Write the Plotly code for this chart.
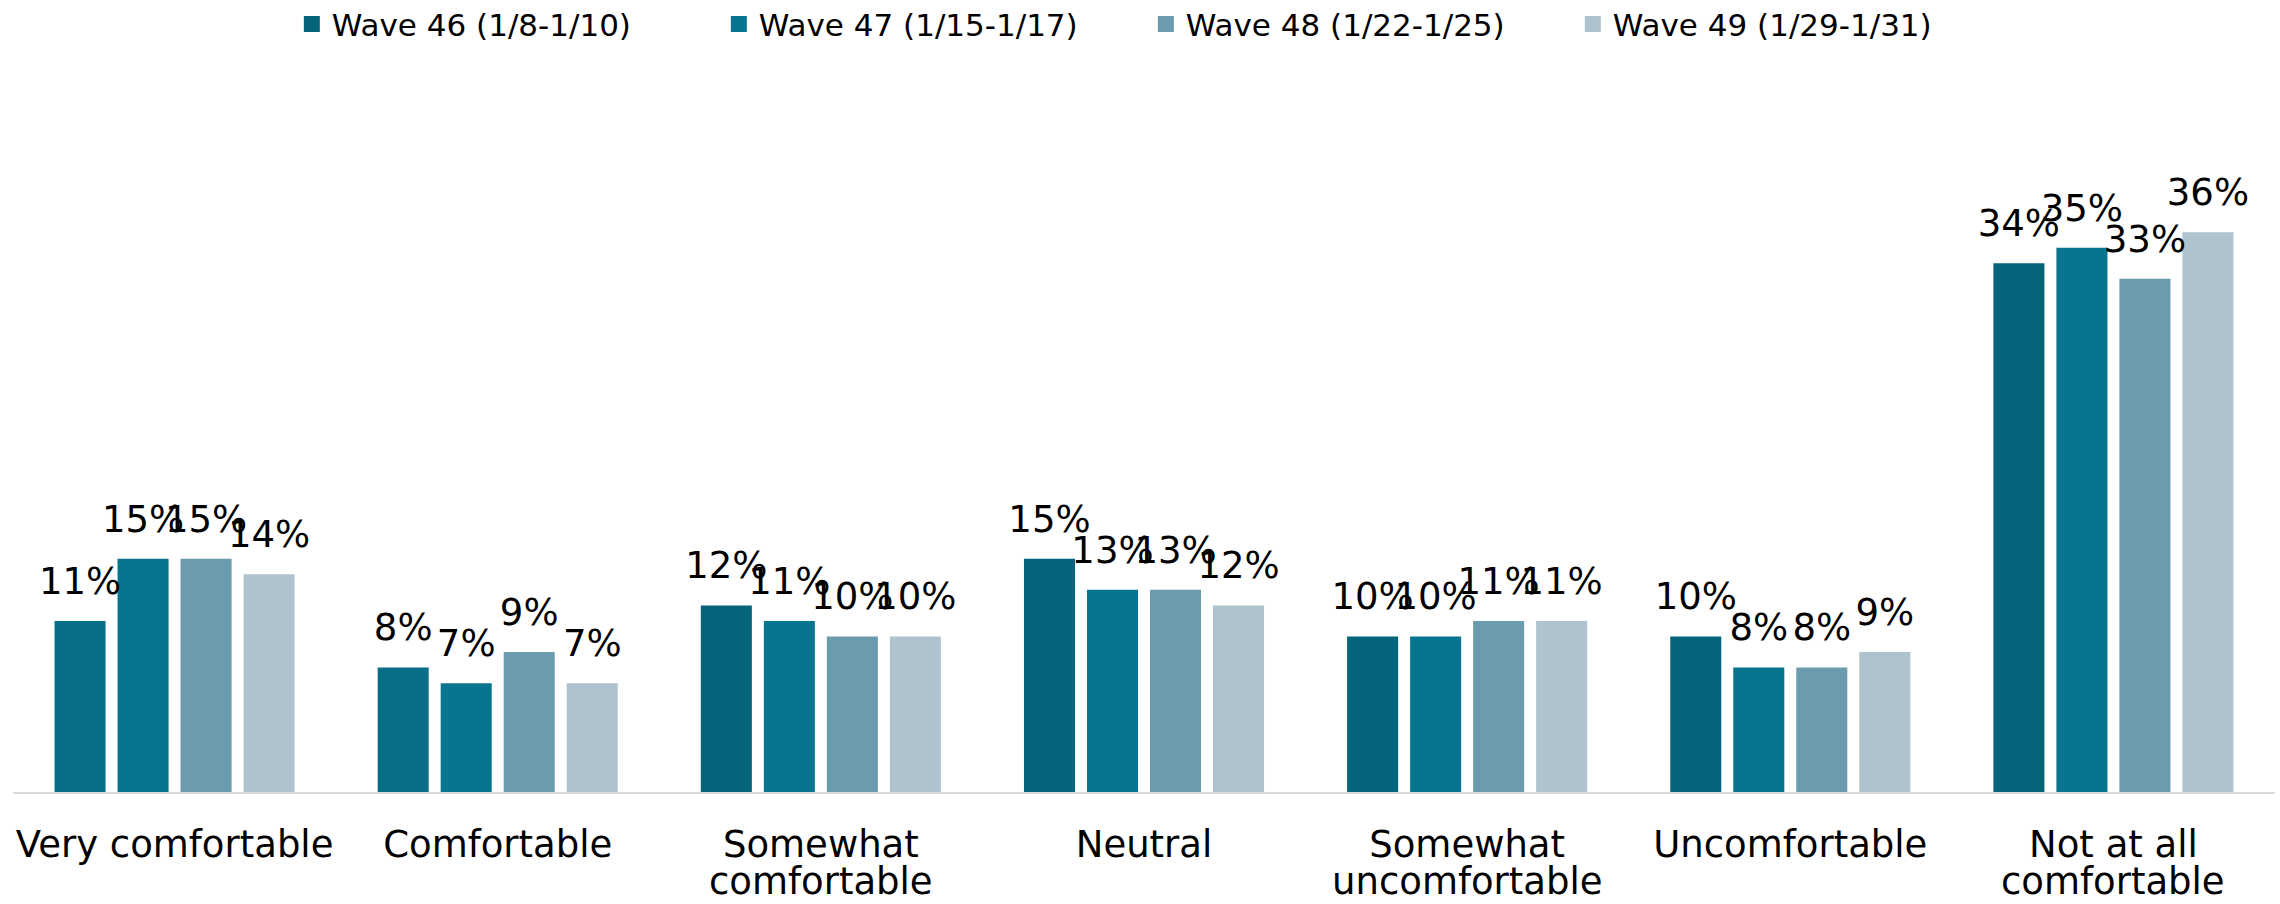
import plotly.graph_objects as go

categories = [
    "Very comfortable",
    "Comfortable",
    "Somewhat comfortable",
    "Neutral",
    "Somewhat uncomfortable",
    "Uncomfortable",
    "Not at all comfortable",
]
label_line1 = ["Very comfortable", "Comfortable", "Somewhat", "Neutral",
               "Somewhat", "Uncomfortable", "Not at all"]
label_line2 = ["", "", "comfortable", "", "uncomfortable", "", "comfortable"]
wave_names = [
    "Wave 46 (1/8-1/10)",
    "Wave 47 (1/15-1/17)",
    "Wave 48 (1/22-1/25)",
    "Wave 49 (1/29-1/31)",
]
wave46 = [11, 8, 12, 15, 10, 10, 34]
wave47 = [15, 7, 11, 13, 10, 8, 35]
wave48 = [15, 9, 10, 13, 11, 8, 33]
wave49 = [14, 7, 10, 12, 11, 9, 36]
series = [wave46, wave47, wave48, wave49]

legend_colors = ["#05637A", "#077590", "#6A9BAF", "#AFC3CE"]
point_colors = [
    ["#077088", "#077088", "#05637A", "#05637A", "#05637A", "#05637A", "#05637A"],
    ["#077590"] * 7,
    ["#6A9BAF"] * 7,
    ["#AFC3CE"] * 7,
]

FONT = "DejaVu Sans"
TICK_FONT = dict(family=FONT, size=37, color="#000000")

fig = go.Figure()
for i, (name, vals) in enumerate(zip(wave_names, series)):
    grp = f"w{i}"
    fig.add_trace(go.Bar(
        x=categories, y=vals, name=name,
        marker=dict(color=point_colors[i], line=dict(width=0)),
        offsetgroup=grp, showlegend=False, hoverinfo="skip",
    ))
    fig.add_trace(go.Scatter(
        x=categories, y=vals, mode="markers+text",
        marker=dict(size=27, opacity=0, color="white"),
        text=[f"{v}%" for v in vals], textposition="top center",
        textfont=dict(family=FONT, size=37, color="#000000"),
        offsetgroup=grp, showlegend=False, hoverinfo="skip", cliponaxis=False,
    ))
    fig.add_trace(go.Scatter(
        x=[None], y=[None], mode="markers", name=name,
        marker=dict(symbol="square", size=16, color=legend_colors[i]),
        offsetgroup=grp, showlegend=True,
    ))

# second lines of the wrapped category labels (tight line spacing)
for cat, line2 in zip(categories, label_line2):
    if line2:
        fig.add_annotation(
            x=cat, y=0, xref="x", yref="y", text=line2, showarrow=False,
            xanchor="center", yanchor="middle", yshift=-89,
            font=TICK_FONT,
        )

fig.update_layout(
    width=2280, height=904,
    barmode="group", bargap=0.22, bargroupgap=0.19,
    scattermode="group", scattergap=0.22,
    plot_bgcolor="white", paper_bgcolor="white",
    margin=dict(l=13, r=5, t=70, b=112, autoexpand=False),
    showlegend=True,
    legend=dict(
        orientation="h", xref="container", yref="container",
        x=0.128, y=0.973, xanchor="left", yanchor="middle",
        font=dict(family=FONT, size=31, color="#000000"),
        entrywidth=382, entrywidthmode="pixels",
        bgcolor="rgba(0,0,0,0)", itemwidth=30,
    ),
    xaxis=dict(
        showline=True, linecolor="#D9D9D9", linewidth=2,
        ticks="", showgrid=False, tickangle=0, automargin=False,
        ticklabelstandoff=19,
        tickmode="array", tickvals=categories, ticktext=label_line1,
        tickfont=TICK_FONT,
    ),
    yaxis=dict(visible=False, range=[0, 46.43], showgrid=False, automargin=False),
)

fig.write_html(
    "out.html",
    config={"displayModeBar": False},
    post_script="document.body.style.margin='0';document.body.style.overflow='hidden';",
)
